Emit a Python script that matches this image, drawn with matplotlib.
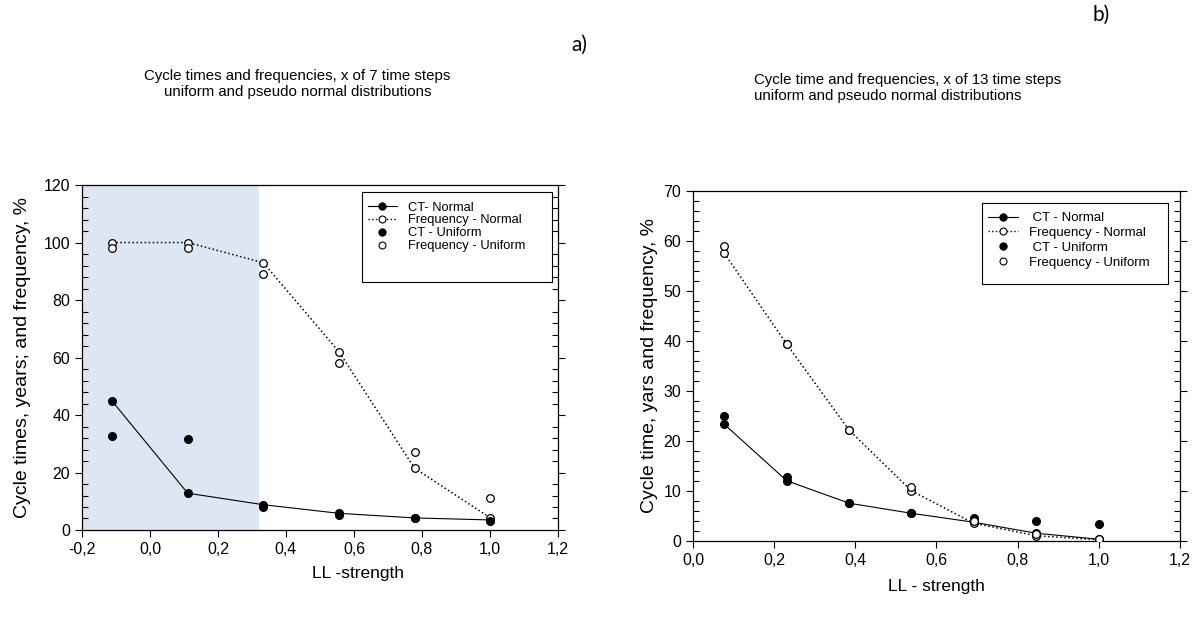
import matplotlib
matplotlib.use('Agg')
import matplotlib.pyplot as plt
from matplotlib.ticker import MultipleLocator, FuncFormatter
from matplotlib.lines import Line2D
from matplotlib.patches import Rectangle

plt.rcParams['font.family'] = ['Liberation Sans', 'DejaVu Sans']

# --- Data: panel a) x of 7 time steps ---
x_a = [-0.111, 0.111, 0.333, 0.556, 0.778, 1.0]
ct_normal_a = [44.8, 12.8, 8.8, 5.8, 4.2, 3.5]
freq_normal_a = [100, 100, 93, 62, 21.5, 4.3]
ct_uniform_a = [32.7, 31.8, 8.0, 5.2, 4.0, 3.2]
freq_uniform_a = [98, 98, 89, 58, 27.2, 11.2]
shade_a = (-0.2, 0.32)

# --- Data: panel b) x of 13 time steps ---
x_b = [0.077, 0.231, 0.385, 0.538, 0.692, 0.846, 1.0]
ct_normal_b = [23.3, 12.0, 7.5, 5.5, 3.7, 1.5, 0.3]
freq_normal_b = [57.5, 39.3, 22.1, 10.0, 3.5, 1.0, 0.2]
ct_uniform_b = [24.9, 12.8, 7.5, 5.5, 4.5, 3.9, 3.3]
freq_uniform_b = [59.0, 39.3, 22.1, 10.7, 3.9, 1.3, 0.3]

labels_a = ['CT- Normal', 'Frequency - Normal', 'CT - Uniform', 'Frequency - Uniform']
labels_b = [' CT - Normal', 'Frequency - Normal', ' CT - Uniform', 'Frequency - Uniform']

comma = FuncFormatter(lambda v, p: f'{v:.1f}'.replace('.', ','))


def draw_panel(ax, x, ctn, frn, ctu, fru):
    ax.plot(x, ctn, '-', color='black', lw=0.8, marker='o', ms=5.5,
            mfc='black', mec='black', zorder=3)
    ax.plot(x, frn, ':', color='black', lw=1.1, marker='o', ms=5.5,
            mfc='white', mec='black', mew=0.9, zorder=3)
    ax.plot(x, ctu, 'o', ms=5.5, mfc='black', mec='black', zorder=3)
    ax.plot(x, fru, 'o', ms=5.5, mfc='white', mec='black', mew=0.9, zorder=3)

    handles = [
        Line2D([], [], ls='-', color='black', lw=0.8, marker='o', ms=5, mfc='black'),
        Line2D([], [], ls=':', color='black', lw=1.0, marker='o', ms=5, mfc='white', mew=0.8),
        Line2D([], [], ls='', marker='o', ms=5, mfc='black', mec='black'),
        Line2D([], [], ls='', marker='o', ms=5, mfc='white', mec='black', mew=0.8),
    ]
    return handles


def style_axes(ax):
    ax.xaxis.set_major_formatter(comma)
    ax.tick_params(which='major', direction='out', length=5, width=0.8,
                   labelsize=11.5, right=True, top=False)
    ax.tick_params(which='minor', direction='in', length=4, width=0.8,
                   right=True, top=False)
    for s in ax.spines.values():
        s.set_linewidth(0.9)


def legend_box(ax, handles, labels, box, anchor, size, spacing):
    # frame drawn separately so the padding can be uneven like the original
    ax.add_patch(Rectangle((box[0], box[1]), box[2], box[3], transform=ax.transAxes,
                           fill=True, facecolor='white', edgecolor='black', lw=0.8, zorder=5))
    leg = ax.legend(handles, labels, loc='upper left', bbox_to_anchor=anchor,
                    fontsize=size, handlelength=2.3, labelspacing=spacing,
                    borderpad=0, borderaxespad=0, frameon=False)
    leg.set_zorder(6)


fig = plt.figure(figsize=(12, 6.18), dpi=100)

# ---- panel a ----
ax1 = fig.add_axes([0.0683, 0.1424, 0.3967, 0.5582])
ax1.axvspan(shade_a[0], shade_a[1], color='#dde7f3', lw=0, zorder=0)
h1 = draw_panel(ax1, x_a, ct_normal_a, freq_normal_a, ct_uniform_a, freq_uniform_a)
ax1.set_xlim(-0.2, 1.2)
ax1.set_ylim(0, 120)
ax1.xaxis.set_major_locator(MultipleLocator(0.2))
ax1.yaxis.set_major_locator(MultipleLocator(20))
ax1.yaxis.set_minor_locator(MultipleLocator(4))
style_axes(ax1)
ax1.set_xlabel('LL -strength', fontsize=12.5)
ax1.xaxis.set_label_coords(0.58, -0.104)
ax1.set_ylabel('Cycle times, years; and frequency, %', fontsize=14, labelpad=9)
legend_box(ax1, h1, labels_a, (0.588, 0.719, 0.399, 0.261), (0.6, 0.952), 9.3, 0.06)

# ---- panel b ----
ax2 = fig.add_axes([0.5775, 0.125, 0.4058, 0.5664])
h2 = draw_panel(ax2, x_b, ct_normal_b, freq_normal_b, ct_uniform_b, freq_uniform_b)
ax2.set_xlim(0, 1.2)
ax2.set_ylim(0, 70)
ax2.xaxis.set_major_locator(MultipleLocator(0.2))
ax2.yaxis.set_major_locator(MultipleLocator(10))
ax2.yaxis.set_minor_locator(MultipleLocator(2))
style_axes(ax2)
ax2.set_xlabel('LL - strength', fontsize=12.5, labelpad=8)
ax2.set_ylabel('Cycle time, yars and frequency, %', fontsize=14)
legend_box(ax2, h2, labels_b, (0.593, 0.733, 0.382, 0.232), (0.605, 0.939), 9.5, 0.19)

# titles and panel letters
fig.text(0.248, 0.864, 'Cycle times and frequencies, x of 7 time steps\nuniform and pseudo normal distributions',
         fontsize=10.8, ha='center', va='center', multialignment='center')
fig.text(0.628, 0.857, 'Cycle time and frequencies, x of 13 time steps\nuniform and pseudo normal distributions',
         fontsize=10.8, ha='left', va='center')
fig.text(0.483, 0.927, 'a)', fontsize=15, family=['Lato', 'DejaVu Sans'], ha='center', va='center')
fig.text(0.918, 0.976, 'b)', fontsize=15, family=['Lato', 'DejaVu Sans'], ha='center', va='center')

fig.savefig('out.png', dpi=100)
